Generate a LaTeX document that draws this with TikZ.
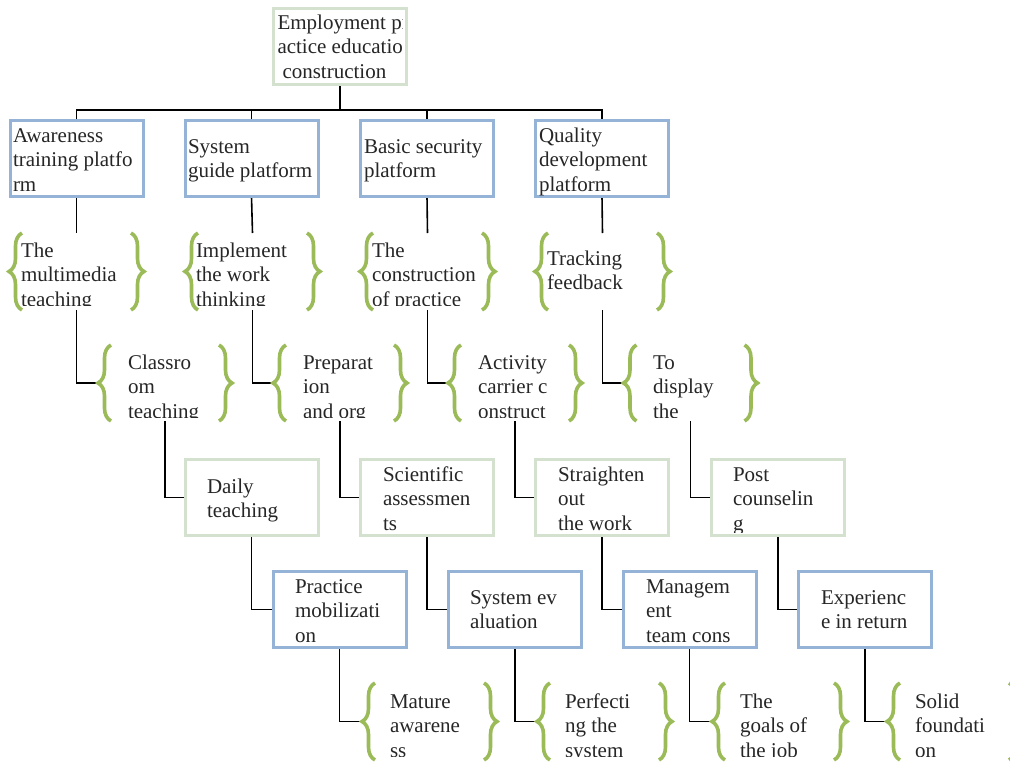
\documentclass[tikz,border=0pt]{standalone}
\usepackage{fontspec}
\setmainfont{Liberation Serif}
\usetikzlibrary{decorations.pathreplacing,backgrounds}
\definecolor{boxblue}{HTML}{95B3D7}
\definecolor{boxgreen}{HTML}{D3E1CE}
\definecolor{bracegreen}{HTML}{9BBB59}
\definecolor{textcol}{HTML}{262626}
\tikzset{
  frame/.style={inner sep=0pt, outer sep=0pt, minimum width=133pt, minimum height=76pt},
  bbox/.style={frame, draw=boxblue, line width=3pt},
  gbox/.style={frame, draw=boxgreen, line width=3pt},
  bgrp/.style={inner sep=0pt, outer sep=0pt, minimum width=135pt, minimum height=77pt},
  bgrpb/.style={inner sep=0pt, outer sep=0pt, minimum width=134pt, minimum height=76pt},
  txt/.style={font=\fontsize{21}{24.5}\selectfont, align=left, inner sep=0pt, outer sep=0pt, anchor=north west, text=textcol},
  brc/.style={decorate, decoration={brace, amplitude=13pt}, draw=bracegreen, line width=3.6pt},
  conn/.style={draw=black, line width=1.6pt}
}
% #1 frame name, #2 dx, #3 dy, #4 right clip inset, #5 bottom clip inset, #6 text
\newcommand\frametext[6]{%
  \begin{scope}
    \clip (#1.north west) rectangle ([xshift=-#4, yshift=#5]#1.south east);
    \node[txt] (t#1) at ([xshift=#2, yshift=-#3]#1.north west) {\strut #6};
  \end{scope}}
\begin{document}
\begin{tikzpicture}[x=1pt,y=-1pt]
\useasboundingbox (0,0) rectangle (1010,761);
% root
\node[gbox] (r) at (340,46) {};
\frametext{r}{4pt}{3.85pt}{4pt}{1.5pt}{Employment pr\\actice education\\\hspace*{5pt}construction}
% level 1
\node[bbox] (a1) at (76.5,158.5) {};
\node[bbox] (b1) at (251.5,158.5) {};
\node[bbox] (c1) at (427,158.5) {};
\node[bbox] (d1) at (602,158.5) {};
\frametext{a1}{3pt}{4.35pt}{0pt}{1.5pt}{Awareness\\training platfo\\rm}
\frametext{b1}{3pt}{15.35pt}{0pt}{1.5pt}{System\\guide platform}
\frametext{c1}{3.5pt}{15.35pt}{0pt}{1.5pt}{Basic security\\platform}
\frametext{d1}{3.5pt}{4.35pt}{0pt}{1.5pt}{Quality\\development\\platform}
% level 2
\node[bgrp] (a2) at (76.5,271.5) {};
\node[bgrp] (b2) at (252.5,271.5) {};
\node[bgrp] (c2) at (427.5,271.5) {};
\node[bgrp] (d2) at (602.5,271.5) {};
\frametext{a2}{12pt}{6.85pt}{0pt}{5pt}{The\\multimedia\\teaching}
\frametext{b2}{11pt}{6.85pt}{0pt}{5pt}{Implement\\the work\\thinking}
\frametext{c2}{12pt}{6.85pt}{0pt}{5pt}{The\\construction\\of practice}
\frametext{d2}{12pt}{14.85pt}{0pt}{5pt}{Tracking\\feedback}
% level 3
\node[bgrpb] (a3) at (165,383) {};
\node[bgrpb] (b3) at (340,383) {};
\node[bgrpb] (c3) at (515,383) {};
\node[bgrpb] (d3) at (690.5,383) {};
\frametext{a3}{30pt}{6.85pt}{0pt}{4pt}{Classro\\om\\teaching}
\frametext{b3}{30pt}{6.85pt}{0pt}{4pt}{Preparat\\ion\\and org}
\frametext{c3}{30pt}{6.85pt}{34pt}{4pt}{Activity\\carrier c\\onstruct}
\frametext{d3}{29.5pt}{6.85pt}{0pt}{4pt}{To\\display\\the}
% level 4
\node[gbox] (a4) at (251.5,497.5) {};
\node[gbox] (b4) at (427,497.5) {};
\node[gbox] (c4) at (602,497.5) {};
\node[gbox] (d4) at (778,497.5) {};
\frametext{a4}{22pt}{16.35pt}{0pt}{3.5pt}{Daily\\teaching}
\frametext{b4}{22.5pt}{4.35pt}{0pt}{3.5pt}{Scientific\\assessmen\\ts}
\frametext{c4}{22.5pt}{4.35pt}{0pt}{3.5pt}{Straighten\\out\\the work}
\frametext{d4}{21.5pt}{4.35pt}{0pt}{3.5pt}{Post\\counselin\\g}
% level 5
\node[bbox] (a5) at (339.5,609.5) {};
\node[bbox] (b5) at (515,609.5) {};
\node[bbox] (c5) at (689.5,609.5) {};
\node[bbox] (d5) at (865,609.5) {};
\frametext{a5}{22pt}{4.35pt}{0pt}{2pt}{Practice\\mobilizati\\on}
\frametext{b5}{21.5pt}{15.35pt}{0pt}{2pt}{System ev\\aluation}
\frametext{c5}{23pt}{4.35pt}{0pt}{2pt}{Managem\\ent\\team cons}
\frametext{d5}{22.5pt}{15.35pt}{0pt}{2pt}{Experienc\\e in return}
% level 6
\node[bgrp] (a6) at (429.5,721.5) {};
\node[bgrp] (b6) at (604.5,721.5) {};
\node[bgrp] (c6) at (779.5,721.5) {};
\node[bgrp] (d6) at (954.5,721.5) {};
\frametext{a6}{28pt}{7.85pt}{0pt}{4pt}{Mature\\awarene\\ss}
\frametext{b6}{28pt}{7.85pt}{0pt}{4pt}{Perfecti\\ng the\\system}
\frametext{c6}{28pt}{7.85pt}{0pt}{4pt}{The\\goals of\\the job}
\frametext{d6}{28pt}{7.85pt}{0pt}{4pt}{Solid\\foundati\\on}
% braces
\foreach \g in {a2,b2,c2,d2,a3,b3,c3,d3,a6,b6,c6,d6}{
  \draw[brc] ([xshift=13pt]\g.south west) -- ([xshift=13pt]\g.north west);
  \draw[brc] ([xshift=-13pt]\g.north east) -- ([xshift=-13pt]\g.south east);
}
% connectors
\coordinate (bus) at (340,110);
\begin{scope}[on background layer]
  \fill[white] (0,0) rectangle (1010,761);
  \draw[conn] (r.south) -- (r.south |- bus);
  \draw[conn] (a1.north) -- (a1.north |- bus) -- (d1.north |- bus) -- (d1.north);
  \draw[conn] (b1.north) -- (b1.north |- bus);
  \draw[conn] (c1.north) -- (c1.north |- bus);
  \foreach \c in {a,b,c,d}{
    \draw[conn] (\c1.south) -- (\c2.north);
    \draw[conn] (\c2.south) |- (\c3.west);
    \draw[conn] (\c3.south) |- (\c4.west);
    \draw[conn] (\c4.south) |- (\c5.west);
    \draw[conn] (\c5.south) |- (\c6.west);
  }
\end{scope}
\end{tikzpicture}
\end{document}
